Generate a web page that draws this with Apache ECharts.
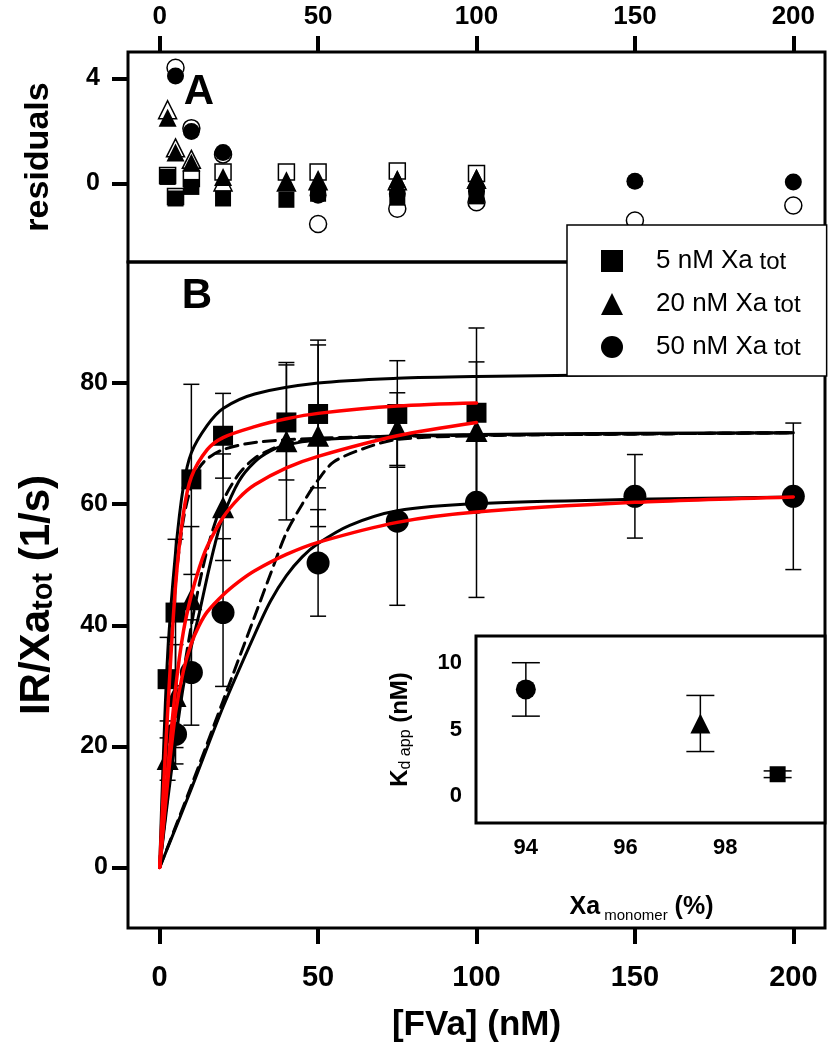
<!DOCTYPE html>
<html><head><meta charset="utf-8">
<script src="https://cdn.jsdelivr.net/npm/echarts@6/dist/echarts.min.js"></script>
<style>html,body{margin:0;padding:0;background:#fff}#c{width:828px;height:1050px}</style>
</head><body><div id="c"></div>
<script>
// ---------- tick labels ----------
const xTicks = [0, 50, 100, 150, 200];
const resTicks = [0, 4];
const mainYTicks = [0, 20, 40, 60, 80];
const insetXTicks = [94, 96, 98];
const insetYTicks = [0, 5, 10];

// ---------- panel B data ----------
const sqX = [2.5, 5, 10, 20, 40, 50, 75, 100];
const sqY = [31.1, 42.1, 64.1, 71.3, 73.5, 74.9, 74.9, 75.1];
const sqErr = [6.9, 12.1, 15.7, 7.0, 9.5, 12.2, 8.8, 14.0];

const trX = [2.5, 5, 10, 20, 40, 50, 75, 100];
const trY = [17.9, 28.3, 44.3, 59.5, 70.4, 71.3, 72.4, 72.1];
const trErr = [3.5, 8.5, 12.0, 8.8, 13.0, 15.0, 6.0, 11.4];

const ciX = [5, 10, 20, 50, 75, 100, 150, 200];
const ciY = [22.0, 32.2, 42.1, 50.3, 57.2, 60.3, 61.3, 61.3];
const ciErr = [4.9, 8.7, 12.2, 8.8, 13.9, 15.7, 6.9, 12.1];

// fitted curves
const bk5X = [0, 1, 2.5, 5, 7.5, 10, 15, 20, 30, 50, 75, 100, 150, 200];
const bk5Y = [0, 16, 35, 52, 63, 68.5, 73, 75.8, 78.2, 80, 80.8, 81.1, 81.4, 81.6];
const rd5X = [0, 1, 2.5, 5, 7.5, 10, 15, 20, 30, 40, 50, 75, 100];
const rd5Y = [0, 11, 25.5, 46.5, 58.5, 64.5, 69, 71, 72.8, 74.1, 75, 76.2, 76.7];
const ds5X = [0, 2.5, 5, 7.5, 10, 12.5, 15, 20, 30, 50, 75, 100, 150, 200];
const ds5Y = [0, 27, 47, 57.5, 63, 66, 67.5, 69, 70.2, 70.9, 71.2, 71.4, 71.6, 71.8];

const bk20X = [0, 2.5, 5, 7.5, 10, 12.5, 15, 17.5, 20, 25, 30, 35, 40, 50, 75, 100, 150, 200];
const bk20Y = [0, 11, 21, 30, 36.5, 42, 48, 53.5, 58, 63.8, 67, 68.8, 69.8, 70.6, 71.3, 71.5, 71.7, 71.8];
const ds20X = [0, 5, 10, 15, 20, 25, 30, 35, 40, 50, 75, 100, 150, 200];
const ds20Y = [0, 23, 40, 52.5, 60.5, 65, 67.6, 69, 70, 70.7, 71.2, 71.4, 71.6, 71.8];
const rd20X = [0, 2.5, 5, 7.5, 10, 12.5, 15, 20, 25, 30, 40, 50, 75, 100];
const rd20Y = [0, 16, 29.5, 39, 45, 49.5, 53, 57.8, 61, 63.2, 66, 67.9, 71.3, 73.5];

const bk50X = [0, 10, 20, 30, 35, 40, 45, 50, 60, 75, 100, 150, 200];
const bk50Y = [0, 13, 26.5, 38.5, 44, 48.2, 51.3, 53.5, 56.5, 58.9, 60.1, 60.8, 61.2];
const ds50X = [0, 10, 20, 30, 35, 40, 45, 50, 55, 65, 75, 100, 150, 200];
const ds50Y = [0, 13.5, 27.5, 41.5, 48.5, 55.3, 60, 64, 67, 69.3, 70.7, 71.3, 71.6, 71.8];
const rd50X = [0, 2.5, 5, 7.5, 10, 12.5, 15, 20, 25, 30, 40, 50, 75, 100, 150, 200];
const rd50Y = [0, 14, 25.5, 32.5, 37, 40, 42.2, 45, 47.2, 49, 51.7, 53.7, 57, 58.7, 60.3, 61.2];

// ---------- panel A residuals ----------
const resSqX = [2.5, 5, 10, 20, 40, 50, 75, 100];
const resSqFilled = [0.24, -0.58, -0.14, -0.58, -0.63, -0.4, -0.55, -0.5];
const resSqOpen = [0.3, -0.5, 0.18, 0.43, 0.43, 0.43, 0.47, 0.37];
const resTrX = [2.5, 5, 10, 20, 40, 50, 75, 100];
const resTrFilled = [2.5, 1.17, 0.78, 0.24, 0.05, 0.1, 0.14, 0.2];
const resTrOpen = [2.8, 1.35, 0.91, 0.05, 0.05, 0.1, 0.1, 0.15];
const resCiX = [5, 10, 20, 50, 75, 100, 150, 200];
const resCiFilled = [4.09, 1.97, 1.17, -0.46, -0.4, -0.3, 0.08, 0.05];
const resCiOpen = [4.4, 2.1, 1.1, -1.55, -0.97, -0.72, -1.42, -0.85];

// ---------- inset ----------
const insX = [94, 97.5, 99.05];
const insY = [8.0, 5.45, 1.65];
const insErr = [2.0, 2.1, 0.25];

const FONT = "'Liberation Sans', Arial, sans-serif";

function pairs(xs, ys) { return xs.map((x, i) => [x, ys[i]]); }

function errSeries(xs, ys, es, xi, yi, cap, lw, z) {
  return {
    type: 'custom', xAxisIndex: xi, yAxisIndex: yi, z: z || 2, silent: true,
    data: xs.map((x, i) => [x, ys[i], es[i]]),
    encode: { x: 0, y: 1 },
    renderItem(params, api) {
      const x = api.value(0), y = api.value(1), e = api.value(2);
      const t = api.coord([x, y + e]), b = api.coord([x, y - e]);
      const h = cap / 2;
      const st = () => ({ stroke: '#000', lineWidth: lw });
      return { type: 'group', children: [
        { type: 'line', shape: { x1: t[0], y1: t[1], x2: b[0], y2: b[1] }, style: st() },
        { type: 'line', shape: { x1: t[0] - h, y1: t[1], x2: t[0] + h, y2: t[1] }, style: st() },
        { type: 'line', shape: { x1: b[0] - h, y1: b[1], x2: b[0] + h, y2: b[1] }, style: st() }
      ] };
    }
  };
}

function curve(xs, ys, color, width, dashed, z) {
  return {
    type: 'line', xAxisIndex: 1, yAxisIndex: 1, data: pairs(xs, ys),
    symbol: 'none', showSymbol: false, smooth: 0.3, silent: true, z: z,
    lineStyle: { color: color, width: width, type: dashed ? [12, 7] : 'solid', cap: 'round' }
  };
}

function scat(name, xs, ys, sym, size, xi, yi, open, z) {
  return {
    type: 'scatter', name: name, xAxisIndex: xi, yAxisIndex: yi, data: pairs(xs, ys),
    symbol: sym, symbolSize: size, silent: true, z: z || 3,
    itemStyle: open ? { color: '#fff', borderColor: '#000', borderWidth: 1.5, opacity: 1 }
                    : { color: '#000', opacity: 1 }
  };
}

const tickLbl = (vals, extra) => Object.assign({ customValues: vals, color: '#000', fontSize: 25, fontWeight: 'bold', fontFamily: FONT }, extra || {});
const tick = (vals, inside, len) => ({ show: true, customValues: vals, inside: inside, length: len, lineStyle: { color: '#000', width: 4 } });
const noLine = { show: false, onZero: false };

const chart = echarts.init(document.getElementById('c'), null, { renderer: 'canvas' });

const option = {
  backgroundColor: '#fff',
  animation: false,
  grid: [
    { left: 128, top: 52, width: 697, height: 210, show: true, borderColor: '#000', borderWidth: 3, backgroundColor: 'transparent' },
    { left: 128, top: 262, width: 697, height: 666, show: true, borderColor: '#000', borderWidth: 3, backgroundColor: 'transparent' },
    { left: 476, top: 636, width: 349, height: 187, show: true, borderColor: '#000', borderWidth: 3, backgroundColor: '#fff', z: 1 }
  ],
  xAxis: [
    { gridIndex: 0, type: 'value', position: 'top', min: -10, max: 210,
      axisLine: noLine, splitLine: { show: false },
      axisTick: tick(xTicks, false, 16), axisLabel: tickLbl(xTicks, { margin: 22, fontSize: 26 }) },
    { gridIndex: 1, type: 'value', position: 'bottom', min: -10, max: 210,
      axisLine: noLine, splitLine: { show: false },
      axisTick: tick(xTicks, false, 16), axisLabel: tickLbl(xTicks, { margin: 35, fontSize: 29 }),
      name: '[FVa] (nM)', nameLocation: 'middle', nameGap: 80,
      nameTextStyle: { color: '#000', fontSize: 35, fontWeight: 'bold', fontFamily: FONT } },
    { gridIndex: 2, type: 'value', position: 'bottom', min: 93, max: 100,
      axisLine: noLine, splitLine: { show: false },
      axisTick: tick(insetXTicks, true, 15), axisLabel: tickLbl(insetXTicks, { margin: 14, fontSize: 22 }),
      name: '{m|Xa}{s| monomer}{m| (%)}', nameLocation: 'middle', nameGap: 72,
      nameTextStyle: { padding: [0, 18, 0, 0], rich: {
        m: { fontSize: 25, fontWeight: 'bold', fontFamily: FONT, color: '#000', lineHeight: 28, verticalAlign: 'top' },
        s: { fontSize: 15, fontFamily: FONT, color: '#000', lineHeight: 18, verticalAlign: 'bottom', padding: [16, 0, 0, 0] } } } },
    { gridIndex: 2, type: 'value', position: 'top', min: 93, max: 100,
      axisLine: noLine, splitLine: { show: false },
      axisTick: tick(insetXTicks, true, 15), axisLabel: { show: false } }
  ],
  yAxis: [
    { gridIndex: 0, type: 'value', min: -3, max: 5,
      axisLine: noLine, splitLine: { show: false },
      axisTick: tick(resTicks, false, 16), axisLabel: tickLbl(resTicks, { margin: 28 }),
      name: 'residuals', nameLocation: 'middle', nameRotate: 90, nameGap: 72,
      nameTextStyle: { color: '#000', fontSize: 34, fontWeight: 'bold', fontFamily: FONT } },
    { gridIndex: 1, type: 'value', min: -10, max: 100,
      axisLine: noLine, splitLine: { show: false },
      axisTick: tick(mainYTicks, false, 16), axisLabel: tickLbl(mainYTicks, { margin: 20 }),
      name: '{m|IR/Xa}{s|tot}{m| (1/s)}', nameLocation: 'middle', nameRotate: 90, nameGap: 70,
      nameTextStyle: { rich: {
        m: { fontSize: 42, fontWeight: 'bold', fontFamily: FONT, color: '#000', lineHeight: 42, verticalAlign: 'top' },
        s: { fontSize: 29, fontWeight: 'bold', fontFamily: FONT, color: '#000', lineHeight: 29, verticalAlign: 'bottom', padding: [21, 0, 0, 0] } } } },
    { gridIndex: 2, type: 'value', min: -2, max: 12,
      axisLine: noLine, splitLine: { show: false },
      axisTick: tick(insetYTicks, true, 15), axisLabel: tickLbl(insetYTicks, { margin: 14, fontSize: 22 }),
      name: '{m|K}{s|d app}{m| (nM)}', nameLocation: 'middle', nameRotate: 90, nameGap: 62,
      nameTextStyle: { rich: {
        m: { fontSize: 24, fontWeight: 'bold', fontFamily: FONT, color: '#000', lineHeight: 26, verticalAlign: 'top' },
        s: { fontSize: 16, fontFamily: FONT, color: '#000', lineHeight: 16, verticalAlign: 'bottom', padding: [14, 0, 0, 0] } } } }
  ],
  legend: {
    data: ['5 nM Xa', '20 nM Xa', '50 nM Xa'],
    orient: 'vertical', left: 567, top: 225,
    padding: [18, 26, 16, 34],
    itemWidth: 22, itemHeight: 22, itemGap: 12,
    backgroundColor: '#fff', borderColor: '#000', borderWidth: 1.5, z: 10,
    selectedMode: false,
    formatter: n => '{m|' + n + '}{s| tot}',
    textStyle: { padding: [0, 0, 0, 28], rich: {
      m: { fontSize: 26, fontFamily: FONT, color: '#000', lineHeight: 26, verticalAlign: 'top' },
      s: { fontSize: 24, fontFamily: FONT, color: '#000', lineHeight: 24, verticalAlign: 'bottom', padding: [7, 0, 0, 0] } } }
  },
  graphic: [
    { type: 'text', x: 199, y: 92, z: 20, style: { text: 'A', font: 'bold 42px ' + FONT, fill: '#000', align: 'center', verticalAlign: 'middle', textAlign: 'center', textVerticalAlign: 'middle' } },
    { type: 'text', x: 197, y: 296, z: 20, style: { text: 'B', font: 'bold 42px ' + FONT, fill: '#000', align: 'center', verticalAlign: 'middle', textAlign: 'center', textVerticalAlign: 'middle' } }
  ],
  series: [
    // panel A residuals (open first, filled on top)
    scat('resSqO', resSqX, resSqOpen, 'rect', 16, 0, 0, true, 3),
    scat('resTrO', resTrX, resTrOpen, 'triangle', 18, 0, 0, true, 3),
    scat('resCiO', resCiX, resCiOpen, 'circle', 17, 0, 0, true, 3),
    scat('resSqF', resSqX, resSqFilled, 'rect', 16, 0, 0, false, 3),
    scat('resTrF', resTrX, resTrFilled, 'triangle', 18, 0, 0, false, 3),
    scat('resCiF', resCiX, resCiFilled, 'circle', 17, 0, 0, false, 3),
    // panel B error bars
    errSeries(sqX, sqY, sqErr, 1, 1, 16, 1.5),
    errSeries(trX, trY, trErr, 1, 1, 16, 1.5),
    errSeries(ciX, ciY, ciErr, 1, 1, 16, 1.5),
    // panel B points
    scat('5 nM Xa', sqX, sqY, 'rect', 20, 1, 1, false, 3),
    scat('20 nM Xa', trX, trY, 'triangle', 22, 1, 1, false, 3),
    scat('50 nM Xa', ciX, ciY, 'circle', 23, 1, 1, false, 3),
    // fitted curves
    curve(bk5X, bk5Y, '#000', 3, false, 4),
    curve(ds5X, ds5Y, '#000', 3, true, 4),
    curve(bk20X, bk20Y, '#000', 3, false, 4),
    curve(ds20X, ds20Y, '#000', 3, true, 4),
    curve(bk50X, bk50Y, '#000', 3, false, 4),
    curve(ds50X, ds50Y, '#000', 3, true, 4),
    curve(rd5X, rd5Y, '#ff0000', 3.5, false, 5),
    curve(rd20X, rd20Y, '#ff0000', 3.5, false, 5),
    curve(rd50X, rd50Y, '#ff0000', 3.5, false, 5),
    // inset
    errSeries(insX, insY, insErr, 2, 2, 28, 1.5, 6),
    scat('insC', [insX[0]], [insY[0]], 'circle', 20, 2, 2, false, 6),
    scat('insT', [insX[1]], [insY[1]], 'triangle', 20, 2, 2, false, 6),
    scat('insS', [insX[2]], [insY[2]], 'rect', 16, 2, 2, false, 6)
  ]
};
chart.setOption(option);
</script></body></html>
